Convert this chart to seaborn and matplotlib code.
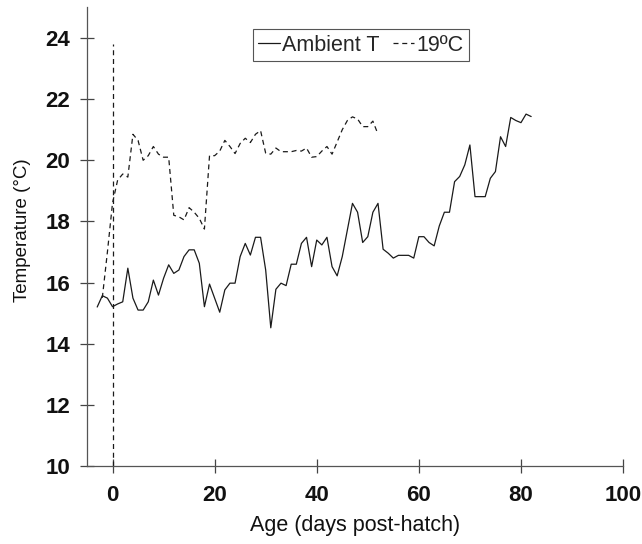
import pandas as pd
import matplotlib.pyplot as plt
import seaborn as sns

# Ambient temperature (solid line), one reading per day
ambient_days = list(range(-3, 83))
ambient_temp = [
    15.2, 15.57, 15.49, 15.21, 15.3, 15.37, 16.47, 15.49, 15.1, 15.1,
    15.37, 16.08, 15.59, 16.14, 16.58, 16.3, 16.41, 16.85, 17.07, 17.07,
    16.63, 15.21, 15.95, 15.49, 15.03, 15.76, 15.98, 15.98, 16.85, 17.28,
    16.9, 17.48, 17.48, 16.41, 14.52, 15.78, 15.98, 15.9, 16.6, 16.6,
    17.28, 17.48, 16.52, 17.39, 17.23, 17.48, 16.52, 16.22, 16.85, 17.72,
    18.59, 18.3, 17.31, 17.5, 18.3, 18.59, 17.09, 16.96, 16.8, 16.89,
    16.89, 16.89, 16.8, 17.5, 17.5, 17.31, 17.2, 17.85, 18.3, 18.3,
    19.3, 19.47, 19.85, 20.5, 18.81, 18.81, 18.81, 19.41, 19.63, 20.77,
    20.45, 21.4, 21.3, 21.23, 21.51, 21.43,
]

# 19ºC treatment (dashed line)
heated_days = list(range(-2, 53))
heated_temp = [
    15.5, 17.0, 18.6, 19.35, 19.55, 19.45, 20.85, 20.65, 20.0, 20.15,
    20.45, 20.2, 20.1, 20.1, 18.2, 18.15, 18.05, 18.45, 18.3, 18.1,
    17.75, 20.15, 20.15, 20.3, 20.65, 20.45, 20.22, 20.55, 20.72, 20.58,
    20.85, 20.97, 20.23, 20.2, 20.4, 20.28, 20.28, 20.28, 20.32, 20.3,
    20.4, 20.1, 20.12, 20.3, 20.45, 20.2, 20.6, 21.0, 21.3, 21.42,
    21.35, 21.1, 21.1, 21.28, 20.85,
]

# dashed marker at hatching
hatch_day = 0
hatch_top = 23.8

ambient = pd.DataFrame({"Age": ambient_days, "Temp": ambient_temp})
heated = pd.DataFrame({"Age": heated_days, "Temp": heated_temp})

sns.set_style("ticks")
plt.rcParams["font.family"] = ["Liberation Sans", "DejaVu Sans"]

fig = plt.figure(figsize=(6.42, 5.44), dpi=100)
ax = fig.add_axes([0.1355, 0.1434, 0.8350, 0.8430])

sns.lineplot(data=ambient, x="Age", y="Temp", ax=ax, color="#1a1a1a",
             linewidth=0.9, label="Ambient T")
sns.lineplot(data=heated, x="Age", y="Temp", ax=ax, color="#1a1a1a",
             linewidth=0.9, linestyle=(0, (4, 3)), label="19ºC")
ax.vlines(hatch_day, 10, hatch_top, color="#1a1a1a", linewidth=0.9,
          linestyle=(0, (4, 3)))

ax.set_xlim(-5, 100)
ax.set_ylim(10, 25)
ax.set_xticks(range(0, 101, 20))
ax.set_yticks(range(10, 25, 2))
sns.despine(ax=ax)
for s in ["left", "bottom"]:
    ax.spines[s].set_color("#555555")
    ax.spines[s].set_linewidth(0.9)
ax.tick_params(direction="inout", length=10, width=0.9, color="#444444",
               labelsize=16, labelcolor="#111111")
ax.tick_params(axis="x", pad=9)
ax.tick_params(axis="y", pad=7)
for lbl in ax.get_xticklabels() + ax.get_yticklabels():
    lbl.set_fontweight("bold")

ax.set_xlabel("Age (days post-hatch)", fontsize=15.5, color="#111111")
ax.set_ylabel("Temperature (°C)", fontsize=13.5, color="#111111")
ax.xaxis.set_label_coords(0.5, -0.107)
ax.yaxis.set_label_coords(-0.104, 0.515)

leg = ax.legend(loc="center", bbox_to_anchor=(0.511, 0.918), ncol=2,
                fontsize=15.5, handlelength=1.0, handletextpad=0.1,
                columnspacing=0.6, borderpad=0.25, fancybox=False,
                framealpha=1, edgecolor="#555555")
leg.get_frame().set_linewidth(0.8)

fig.savefig("out.png", dpi=100)
